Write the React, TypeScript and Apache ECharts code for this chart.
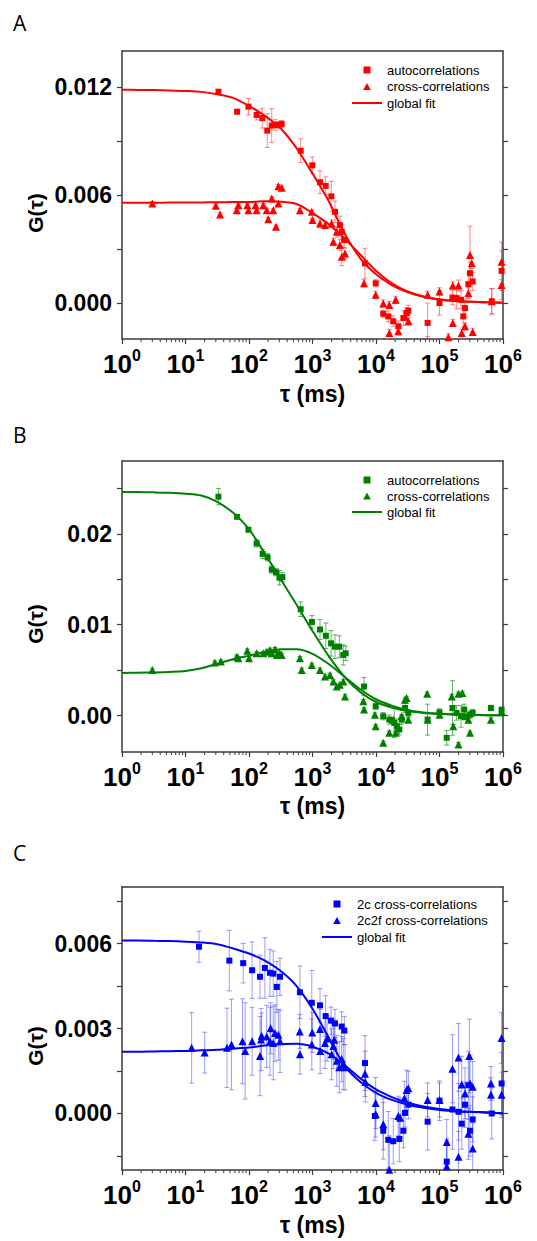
import React, { useEffect, useRef } from "react";
import * as echarts from "echarts";

type P3 = [number, number, number]; // [tau (ms), G(tau), error]

// ---------------- Panel A ----------------
const aAuto: P3[] = [
  [33, 0.01174, 0.00008], [65, 0.01063, 0.00013], [98, 0.01091, 0.00046], [132, 0.01045, 0.00028],
  [162, 0.01027, 0.00055], [194, 0.00958, 0.00094], [228, 0.00986, 0.00094], [257, 0.0099, 0.0003],
  [290, 0.0099, 0.0002], [327, 0.00994, 0.0002], [652, 0.00846, 0.00066], [993, 0.00765, 0.00046],
  [1312, 0.00671, 0.00063], [1614, 0.00651, 0.0005], [1978, 0.00593, 0.00083], [2260, 0.00507, 0.0006],
  [2700, 0.00433, 0.0005], [2890, 0.00396, 0.0004], [3150, 0.0035, 0.0004], [6710, 0.00221, 0.00083],
  [9890, 0.0011, 0.0002], [13000, -0.00059, 0.0002], [15600, -0.00074, 0.0003], [18700, -0.00101, 0.0003],
  [22500, -0.00129, 0.0003], [27000, -0.00083, 0.0004], [30500, -0.00055, 0.0003], [32300, -0.00042, 0.0003],
  [65000, -0.0011, 0.0011], [100000, 0.0, 0.00066], [160000, 0.00031, 0.0004], [186000, 0.00028, 0.0006],
  [218000, 0.00018, 0.0005], [237000, -0.00074, 0.0006], [252000, -0.00028, 0.0005], [285000, 0.00105, 0.0006],
  [302000, 0.00166, 0.0006], [333000, 0.0012, 0.0005], [665000, 0.0001, 0.0007], [950000, 0.00179, 0.0016],
];
const aCross: P3[] = [
  [3, 0.00553, 0.0001], [30, 0.0054, 0.0001], [35, 0.00492, 0.0001], [64, 0.00516, 0.0001],
  [68, 0.00544, 0.0001], [94, 0.00544, 0.0001], [98, 0.00516, 0.0001], [127, 0.00544, 0.0001],
  [132, 0.00516, 0.0001], [168, 0.00544, 0.0001], [190, 0.00516, 0.0001], [201, 0.00466, 0.0001],
  [228, 0.00581, 0.0001], [241, 0.00516, 0.0001], [266, 0.00424, 0.0001], [290, 0.00649, 0.0001],
  [327, 0.00641, 0.0001], [290, 0.00553, 0.0001], [634, 0.00516, 0.0001], [975, 0.00507, 0.0001],
  [1000, 0.00461, 0.0001], [1310, 0.00442, 0.0002], [1575, 0.00433, 0.0002], [2000, 0.00442, 0.0002],
  [2130, 0.00341, 0.0002], [2410, 0.00396, 0.0003], [2700, 0.00322, 0.0003], [2890, 0.00258, 0.0005],
  [3250, 0.00276, 0.0003], [6480, 0.0011, 0.0002], [9880, 0.00046, 0.0002], [13000, -0.00002, 0.0002],
  [16200, -0.0001, 0.0002], [16200, -0.00166, 0.0002], [20400, 0.00018, 0.0002], [22400, -0.00157, 0.0002],
  [28600, -0.00074, 0.0002], [32400, -0.00101, 0.0002], [65000, 0.00046, 0.0002], [65000, -0.00205, 0.0002],
  [100000, 0.00065, 0.0002], [138000, -0.0019, 0.0002], [162000, 0.00098, 0.0002], [162000, -0.0011, 0.0002],
  [199000, 0.00098, 0.0003], [224000, -0.00166, 0.0002], [252000, -0.00129, 0.0002], [285000, 0.00055, 0.0003],
  [302000, 0.00267, 0.0016], [322000, 0.00221, 0.0003], [333000, -0.0016, 0.0002], [665000, 0.0001, 0.0007],
  [950000, 0.0023, 0.0006], [950000, 0.001, 0.0003],
];

// Fit curves, read at quarter decades of tau
const fitTau = [
  1, 1.78, 3.16, 5.62, 10, 17.8, 31.6, 56.2, 100, 178, 316, 562, 1000, 1778, 3162, 5623,
  10000, 17783, 31623, 56234, 100000, 177828, 316228, 562341, 1000000,
];
const aAutoFitG = [
  0.01185, 0.01184, 0.01183, 0.01181, 0.01178, 0.01173, 0.0116, 0.0114, 0.01095, 0.0104, 0.0097, 0.0086,
  0.0072, 0.0057, 0.0039, 0.0025, 0.0016, 0.001, 0.0006, 0.00035, 0.0002, 0.00012, 0.00007, 0.00004, 0.00002,
];
const aCrossFitG = [
  0.00557, 0.00557, 0.00557, 0.00558, 0.00558, 0.00559, 0.0056, 0.00561, 0.00562, 0.00565, 0.00563, 0.0055,
  0.005, 0.0044, 0.0036, 0.0027, 0.0018, 0.0011, 0.00065, 0.00037, 0.0002, 0.00012, 0.00007, 0.00004, 0.00002,
];

// ---------------- Panel B ----------------
const bAuto: P3[] = [
  [33, 0.02408, 0.0009], [65, 0.02186, 0.0002], [98, 0.02044, 0.0002], [132, 0.01894, 0.0004],
  [164, 0.01778, 0.0005], [196, 0.01741, 0.0004], [228, 0.01607, 0.0004], [266, 0.01577, 0.0004],
  [302, 0.01516, 0.0008], [335, 0.01523, 0.0005], [652, 0.0117, 0.0008], [980, 0.0103, 0.0007],
  [1312, 0.00947, 0.0011], [1625, 0.00878, 0.0014], [1960, 0.00795, 0.0014], [2260, 0.00758, 0.0013],
  [2640, 0.00758, 0.0012], [3050, 0.00667, 0.0011], [3330, 0.00685, 0.0008], [6480, 0.0032, 0.001],
  [9890, 0.00102, 0.0003], [13000, -0.00007, 0.0004], [16200, -0.00044, 0.0005], [19400, -0.0008, 0.0016],
  [21300, -0.00117, 0.0008], [23300, -0.00153, 0.0006], [25400, -0.00044, 0.0005], [28600, 0.00084, 0.0005],
  [32300, 0.0003, 0.0004], [65000, -0.00044, 0.0017], [100000, 0.00036, 0.0004], [130000, -0.00244, 0.0008],
  [160000, 0.00084, 0.003], [186000, 0.0003, 0.0008], [218000, -0.00007, 0.0012], [245000, 0.00066, 0.0006],
  [302000, 0.0001, 0.0004], [333000, 0.0003, 0.0004], [645000, 0.00084, 0.0003], [950000, 0.00066, 0.0002],
];
const bCross: P3[] = [
  [3, 0.00503, 0.0002], [29, 0.00583, 0.0002], [36, 0.00594, 0.0002], [64, 0.00648, 0.0002],
  [68, 0.0063, 0.0002], [94, 0.00714, 0.0002], [100, 0.0063, 0.0002], [132, 0.00685, 0.0002],
  [168, 0.00685, 0.0002], [190, 0.00703, 0.0002], [214, 0.00721, 0.0002], [228, 0.00685, 0.0002],
  [257, 0.00729, 0.0002], [274, 0.00667, 0.0002], [302, 0.00685, 0.0002], [327, 0.00667, 0.0002],
  [634, 0.0063, 0.0002], [676, 0.00503, 0.0002], [975, 0.00557, 0.0002], [1312, 0.00503, 0.0002],
  [1574, 0.0043, 0.0002], [1888, 0.00448, 0.0002], [2130, 0.00375, 0.0002], [2410, 0.0032, 0.0002],
  [2700, 0.00339, 0.0002], [3055, 0.00375, 0.0002], [3250, 0.00211, 0.0002], [6330, 0.00157, 0.0002],
  [6480, 0.00066, 0.0002], [9600, 0.0001, 0.0002], [9890, -0.00117, 0.0002], [13000, -0.00299, 0.0002],
  [16200, -0.00189, 0.0002], [18700, -0.00044, 0.0002], [20400, -0.00189, 0.0002], [25400, -0.00007, 0.0002],
  [28600, 0.00175, 0.0002], [30300, 0.00193, 0.0002], [32300, -0.00044, 0.0002], [64000, 0.0024, 0.0002],
  [65000, -0.00044, 0.0002], [100000, 0.0001, 0.0002], [156000, 0.00211, 0.0002], [165000, -0.00117, 0.0002],
  [199000, 0.0024, 0.0002], [199000, -0.00317, 0.0002], [229000, 0.00248, 0.0002], [252000, -0.00007, 0.0002],
  [285000, -0.00044, 0.0002], [302000, -0.00189, 0.0002], [645000, -0.00044, 0.0002], [950000, 0.00047, 0.0002],
];
const bAutoFitG = [
  0.0246, 0.02458, 0.02455, 0.0245, 0.0244, 0.0242, 0.0235, 0.0223, 0.0205, 0.0178, 0.015, 0.0122,
  0.0093, 0.0066, 0.0043, 0.0026, 0.0015, 0.0009, 0.0005, 0.0003, 0.0002, 0.00012, 0.00008, 0.00005, 0.00003,
];
const bCrossFitG = [
  0.0047, 0.00472, 0.00475, 0.0048, 0.0049, 0.0052, 0.0057, 0.0062, 0.0066, 0.007, 0.0073, 0.0073,
  0.0068, 0.0057, 0.0043, 0.0029, 0.0018, 0.0011, 0.0006, 0.00035, 0.0002, 0.00012, 0.00008, 0.00005, 0.00003,
];

// ---------------- Panel C ----------------
const c2c: P3[] = [
  [16.3, 0.00589, 0.00055], [49, 0.0054, 0.00107], [81, 0.00531, 0.0007], [112, 0.00506, 0.001],
  [149, 0.00483, 0.00076], [178, 0.00514, 0.00107], [214, 0.00497, 0.00083], [241, 0.00494, 0.0008],
  [274, 0.00447, 0.0009], [308, 0.00483, 0.00066], [634, 0.00428, 0.00093], [975, 0.00391, 0.00114],
  [1312, 0.00382, 0.00059], [1612, 0.00344, 0.00072], [1960, 0.00328, 0.00048], [2260, 0.00318, 0.0005],
  [2880, 0.00307, 0.00052], [3170, 0.00293, 0.0005], [6710, 0.00178, 0.00097], [9600, -0.00009, 0.00086],
  [13000, -0.00061, 0.001], [15600, -0.00093, 0.001], [18700, -0.00098, 0.0008], [23300, -0.0009, 0.0008],
  [27000, -0.00061, 0.0006], [28600, 0.00002, 0.0005], [32300, 0.00031, 0.0005], [65000, -0.00029, 0.001],
  [100000, 0.00045, 0.0007], [130000, -0.0017, 0.0008], [160000, 0.00014, 0.0014], [199000, 0.00006, 0.001],
  [224000, -0.00036, 0.0009], [252000, 0.00031, 0.0008], [285000, 0.001, 0.0012], [302000, -0.00061, 0.0009],
  [333000, -0.00021, 0.0008], [665000, 0.0, 0.0009], [950000, 0.00106, 0.0011],
];
const c2c2f: P3[] = [
  [12.5, 0.00232, 0.00125], [20, 0.00215, 0.00072], [45, 0.00232, 0.0014], [53, 0.00244, 0.0016],
  [79, 0.00255, 0.0015], [87, 0.00221, 0.0017], [112, 0.00255, 0.0012], [149, 0.00203, 0.0014],
  [155, 0.00261, 0.0011], [158, 0.00275, 0.0008], [190, 0.00272, 0.0011], [214, 0.00255, 0.0012],
  [219, 0.00301, 0.0009], [241, 0.00249, 0.0013], [257, 0.00284, 0.001], [290, 0.00278, 0.0009],
  [308, 0.00255, 0.0011], [634, 0.00209, 0.0007], [630, 0.0029, 0.0006], [975, 0.00244, 0.0009],
  [990, 0.00286, 0.0007], [1312, 0.00298, 0.0007], [1320, 0.00221, 0.0008], [1574, 0.00249, 0.0009],
  [1700, 0.00265, 0.0008], [2000, 0.00209, 0.0009], [2130, 0.00238, 0.0008], [2200, 0.0026, 0.0007],
  [2410, 0.00186, 0.0009], [2640, 0.00163, 0.0009], [2880, 0.00192, 0.0008], [3055, 0.00175, 0.0009],
  [3250, 0.00163, 0.0008], [6710, 0.0014, 0.0008], [6800, 0.00111, 0.0007], [9890, 0.00037, 0.0009],
  [9900, -0.00003, 0.0008], [13000, -0.00038, 0.0009], [16200, -0.00199, 0.0012], [22400, -0.00009, 0.0007],
  [24000, -0.00015, 0.0007], [28000, 0.00054, 0.0006], [30300, 0.00083, 0.0007], [32300, 0.00089, 0.0006],
  [65000, 0.00048, 0.0006], [100000, 0.00048, 0.0006], [130000, -0.00101, 0.0008], [130000, -0.00187, 0.0009],
  [160000, 0.00158, 0.0012], [199000, 0.00198, 0.0012], [199000, -0.00153, 0.0009], [224000, 0.00102, 0.001],
  [252000, 0.00071, 0.0009], [285000, -0.00072, 0.0009], [295000, 0.00203, 0.0013], [302000, 0.00106, 0.001],
  [333000, 0.00094, 0.0009], [333000, -0.00124, 0.0009], [645000, 0.00106, 0.0006], [645000, 0.00066, 0.0006],
  [950000, 0.00267, 0.0009], [950000, 0.00066, 0.0008],
];
const c2cFitG = [
  0.00611, 0.00611, 0.0061, 0.00609, 0.00607, 0.00604, 0.00598, 0.00583, 0.00565, 0.0054, 0.00503, 0.0045,
  0.0037, 0.0027, 0.0017, 0.00112, 0.00073, 0.00048, 0.00031, 0.0002, 0.00012, 0.00008, 0.00005, 0.00003, 0.00001,
];
const c2c2fFitG = [
  0.00218, 0.00218, 0.00219, 0.0022, 0.00221, 0.00223, 0.00225, 0.00229, 0.00233, 0.0024, 0.00245, 0.00246,
  0.00236, 0.00212, 0.00172, 0.00125, 0.00085, 0.00058, 0.00038, 0.00025, 0.00016, 0.0001, 0.00006, 0.00004, 0.00001,
];

// ---------------- Axis ticks ----------------
const xDecades = [1, 10, 100, 1000, 10000, 100000];
const xMinorFactors = [2, 3, 4, 5, 6, 7, 8, 9];
const aYTicks = [0, 0.003, 0.006, 0.009, 0.012];
const aYLabels = [0, 0.006, 0.012];
const bYTicks = [0, 0.005, 0.01, 0.015, 0.02, 0.025];
const bYLabels = [0, 0.01, 0.02];
const cYTicks = [-0.0015, 0, 0.0015, 0.003, 0.0045, 0.006, 0.0075];
const cYLabels = [0, 0.003, 0.006];

const FONT = "'Liberation Sans', Arial, sans-serif";
const AXIS = "#3a3a3a";

interface PanelCfg {
  letter: string;
  top: number;
  height: number;
  gridTop: number;
  gridHeight: number;
  yMin: number;
  yMax: number;
  yTicks: number[];
  yLabels: number[];
  dec: number;
  color: string;
  errColor: string;
  names: [string, string, string];
  legendLeft: number;
  legendTop: number;
  legendGap: number;
  letterY: number;
  gY: number;
  sq: P3[];
  tri: P3[];
  sqFit: number[];
  triFit: number[];
}

const panels: PanelCfg[] = [
  {
    letter: "A", top: 0, height: 410, gridTop: 51, gridHeight: 291,
    yMin: -0.002, yMax: 0.014, yTicks: aYTicks, yLabels: aYLabels, dec: 3,
    color: "#ff0000", errColor: "rgba(255,40,40,0.55)",
    names: ["autocorrelations", "cross-correlations", "global fit"],
    legendLeft: 347, legendTop: 58.5, legendGap: 3.5, letterY: 22.5, gY: 213,
    sq: aAuto, tri: aCross, sqFit: aAutoFitG, triFit: aCrossFitG,
  },
  {
    letter: "B", top: 410, height: 420, gridTop: 51, gridHeight: 291,
    yMin: -0.004, yMax: 0.028, yTicks: bYTicks, yLabels: bYLabels, dec: 2,
    color: "#008000", errColor: "rgba(0,128,0,0.6)",
    names: ["autocorrelations", "cross-correlations", "global fit"],
    legendLeft: 347, legendTop: 58.5, legendGap: 3, letterY: 25, gY: 214,
    sq: bAuto, tri: bCross, sqFit: bAutoFitG, triFit: bCrossFitG,
  },
  {
    letter: "C", top: 830, height: 411, gridTop: 57, gridHeight: 290,
    yMin: -0.002, yMax: 0.008, yTicks: cYTicks, yLabels: cYLabels, dec: 3,
    color: "#0000ff", errColor: "rgba(60,60,255,0.5)",
    names: ["2c cross-correlations", "2c2f cross-correlations", "global fit"],
    legendLeft: 317, legendTop: 62.5, legendGap: 3.5, letterY: 22.5, gY: 216,
    sq: c2c, tri: c2c2f, sqFit: c2cFitG, triFit: c2c2fFitG,
  },
];

function errSeries(data: P3[], color: string) {
  return {
    type: "custom",
    data,
    clip: true,
    silent: true,
    z: 2,
    renderItem: (_params: any, api: any) => {
      const x = api.value(0) as number;
      const y = api.value(1) as number;
      const e = api.value(2) as number;
      const t = api.coord([x, y + e]);
      const b = api.coord([x, y - e]);
      const w = 2.5;
      const style = { stroke: color, lineWidth: 1 };
      return {
        type: "group",
        children: [
          { type: "line", shape: { x1: t[0], y1: t[1], x2: b[0], y2: b[1] }, style },
          { type: "line", shape: { x1: t[0] - w, y1: t[1], x2: t[0] + w, y2: t[1] }, style },
          { type: "line", shape: { x1: b[0] - w, y1: b[1], x2: b[0] + w, y2: b[1] }, style },
        ],
      };
    },
  };
}

function buildOption(p: PanelCfg): any {
  const minorTicks: [number, number][] = [];
  xDecades.forEach((d) => xMinorFactors.forEach((f) => minorTicks.push([d * f, p.yMin])));
  const axisLine = { show: true, onZero: false, lineStyle: { color: AXIS, width: 1.5 } };
  const fitLine = (g: number[]) => ({
    type: "line", name: p.names[2], data: fitTau.map((t, i) => [t, g[i]]), smooth: 0.3,
    symbol: "none", lineStyle: { color: p.color, width: 2 }, itemStyle: { color: p.color }, z: 4,
  });
  return {
    animation: false,
    backgroundColor: "#fff",
    grid: { left: 122, top: p.gridTop, width: 381, height: p.gridHeight },
    legend: {
      orient: "vertical",
      left: p.legendLeft,
      top: p.legendTop,
      itemWidth: 30,
      itemHeight: 7,
      itemGap: p.legendGap,
      selectedMode: false,
      symbolKeepAspect: true,
      data: [
        { name: p.names[0], icon: "path://M0,0h10v10h-10z" },
        { name: p.names[1], icon: "path://M5,0L10,9L0,9Z" },
        { name: p.names[2], icon: "path://M0,0h30v2h-30z" },
      ],
      textStyle: { fontSize: 13, fontFamily: FONT, color: "#000" },
    },
    graphic: [
      {
        type: "text", x: 13, y: p.letterY,
        style: { text: p.letter, font: "21px 'Open Sans', sans-serif", fill: "#000", textVerticalAlign: "middle" },
      },
      {
        type: "text", x: 35.5, y: p.gY, rotation: Math.PI / 2,
        style: {
          text: "G(τ)", font: `bold 21px ${FONT}`, fill: "#000",
          textAlign: "center", textVerticalAlign: "middle",
        },
      },
    ],
    xAxis: [
      {
        type: "log", logBase: 10, min: 1, max: 1000000, position: "bottom",
        axisLine, splitLine: { show: false },
        axisTick: { show: true, length: 5, lineStyle: { color: AXIS, width: 1.2 } },
        axisLabel: {
          margin: 8,
          formatter: (v: number) => `{b|10}{s|${Math.round(Math.log10(v))}}`,
          rich: {
            b: { fontSize: 26, fontWeight: "bold", fontFamily: FONT, color: "#000", lineHeight: 30, verticalAlign: "bottom" },
            s: { fontSize: 16, fontWeight: "bold", fontFamily: FONT, color: "#000", lineHeight: 16, verticalAlign: "top" },
          },
        },
        name: "τ (ms)", nameLocation: "middle", nameGap: 41,
        nameTextStyle: { fontSize: 23, fontWeight: "bold", fontFamily: FONT, color: "#000" },
      },
      {
        type: "log", logBase: 10, min: 1, max: 1000000, position: "top",
        axisLine, axisTick: { show: false }, axisLabel: { show: false }, splitLine: { show: false },
      },
    ],
    yAxis: [
      {
        type: "value", min: p.yMin, max: p.yMax, position: "left",
        axisLine, splitLine: { show: false },
        axisTick: { show: true, length: 5, customValues: p.yTicks, lineStyle: { color: AXIS, width: 1.2 } },
        axisLabel: {
          customValues: p.yLabels, margin: 10,
          formatter: (v: number) => v.toFixed(p.dec),
          fontSize: 23, fontWeight: "bold", fontFamily: FONT, color: "#000",
        },
      },
      {
        type: "value", min: p.yMin, max: p.yMax, position: "right",
        axisLine, splitLine: { show: false },
        axisTick: { show: true, length: 5, customValues: p.yTicks, lineStyle: { color: AXIS, width: 1.2 } },
        axisLabel: { show: false },
      },
    ],
    series: [
      errSeries(p.sq, p.errColor),
      errSeries(p.tri, p.errColor),
      {
        type: "scatter", name: p.names[0], symbol: "rect", symbolSize: 6,
        data: p.sq.map((d) => [d[0], d[1]]), itemStyle: { color: p.color, opacity: 1 }, z: 3,
      },
      {
        type: "scatter", name: p.names[1], symbol: "triangle", symbolSize: 8,
        data: p.tri.map((d) => [d[0], d[1]]), itemStyle: { color: p.color, opacity: 1 }, z: 3,
      },
      fitLine(p.sqFit),
      fitLine(p.triFit),
      {
        type: "custom", data: minorTicks, clip: false, silent: true, z: 5,
        renderItem: (_params: any, api: any) => {
          const pt = api.coord([api.value(0), api.value(1)]);
          return {
            type: "line",
            shape: { x1: pt[0], y1: pt[1], x2: pt[0], y2: pt[1] + 3 },
            style: { stroke: AXIS, lineWidth: 1 },
          };
        },
      },
    ],
  };
}

function Panel({ cfg }: { cfg: PanelCfg }) {
  const ref = useRef<HTMLDivElement>(null);
  useEffect(() => {
    if (!ref.current) return;
    const chart = echarts.init(ref.current, null, { renderer: "svg" });
    chart.setOption(buildOption(cfg));
    return () => chart.dispose();
  }, [cfg]);
  return (
    <div
      ref={ref}
      style={{ position: "absolute", left: 0, top: cfg.top, width: 537, height: cfg.height }}
    />
  );
}

export default function App() {
  return (
    <div style={{ position: "absolute", left: 0, top: 0, width: 537, height: 1241, background: "#fff" }}>
      {panels.map((p) => (
        <Panel key={p.letter} cfg={p} />
      ))}
    </div>
  );
}
